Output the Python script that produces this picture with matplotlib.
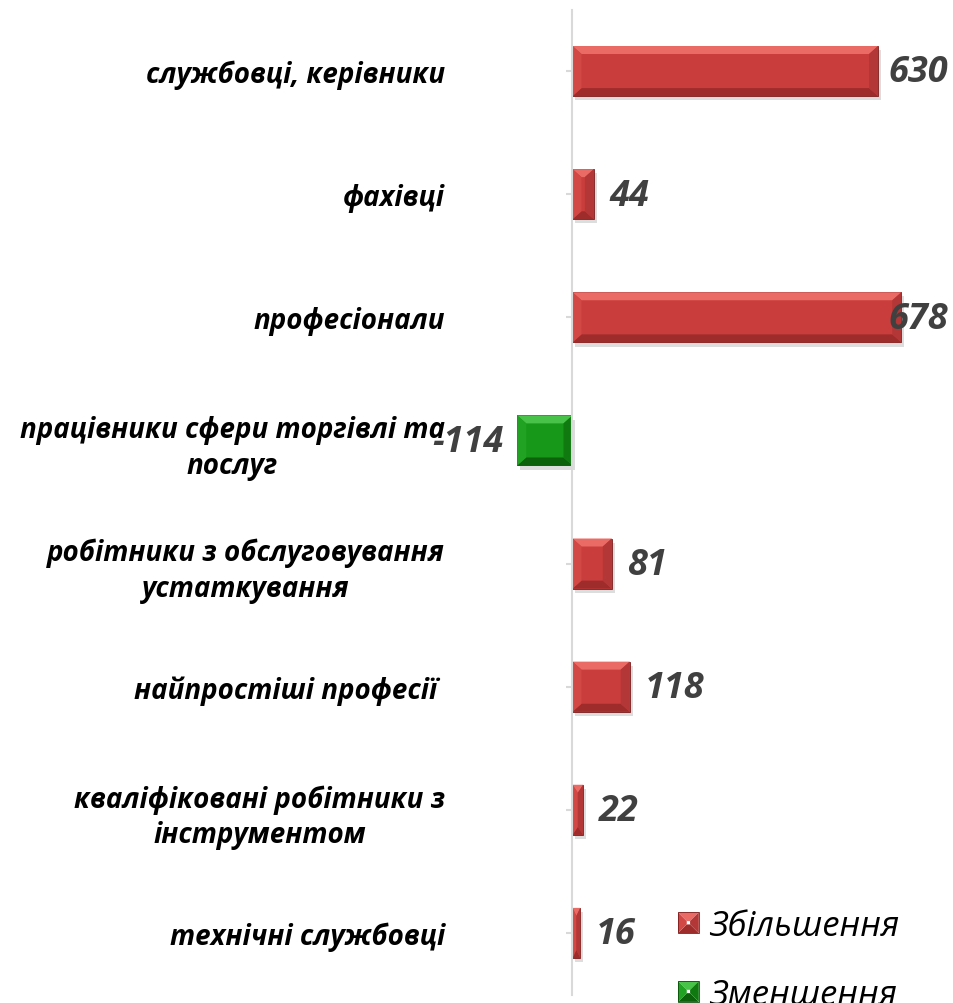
import matplotlib
matplotlib.use("Agg")
import matplotlib.pyplot as plt
from matplotlib.patches import Polygon, Patch
from matplotlib.legend_handler import HandlerBase
import matplotlib.patheffects as pe

# ---------------- data ----------------
categories = [
    "службовці, керівники",
    "фахівці",
    "професіонали",
    "працівники сфери торгівлі та\nпослуг",
    "робітники з обслуговування\nустаткування",
    "найпростіші професії ",
    "кваліфіковані робітники з\nінструментом",
    "технічні службовці",
]
values = [630, 44, 678, -114, 81, 118, 22, 16]
series_names = ["Збільшення", "Зменшення"]

# ---------------- style ----------------
plt.rcParams["font.family"] = ["Open Sans", "DejaVu Sans"]
RED = dict(main="#C93D3C", top="#EA6A66", bottom="#9E2C2B", left="#D24845",
           right="#B23736", edge="#7A1C1C")
GREEN = dict(main="#189818", top="#48C248", bottom="#0B620B", left="#22A222",
             right="#107A10", edge="#0A4D0A")

W, H = 954, 1004
fig = plt.figure(figsize=(W / 100, H / 100), dpi=100)
fig.patch.set_facecolor("white")

zero_px, ppu = 572.5, 0.485
xmin, xmax = -200, 780
left_px = zero_px + xmin * ppu
right_px = zero_px + xmax * ppu
top_px, bottom_px = 10.5, 995.5
ax = fig.add_axes([left_px / W, 1 - bottom_px / H,
                   (right_px - left_px) / W, (bottom_px - top_px) / H])
ax.set_xlim(xmin, xmax)
n = len(categories)
ax.set_ylim(n - 0.5, -0.5)
ax.set_facecolor("none")

for s in ["top", "right", "bottom"]:
    ax.spines[s].set_visible(False)
ax.spines["left"].set_position(("data", 0))
ax.spines["left"].set_color("#D9D9D9")
ax.spines["left"].set_linewidth(1.5)
ax.set_xticks([])
ax.set_yticks(range(n))
ax.set_yticklabels(categories)
ax.tick_params(axis="y", length=4.3, width=1.5, color="#D9D9D9",
               pad=87.5, labelsize=20)
for lbl in ax.get_yticklabels():
    lbl.set_fontweight("bold")
    lbl.set_fontstyle("italic")
    lbl.set_multialignment("center")
    lbl.set_color("black")
    lbl.set_linespacing(1.3)

# ---------------- bars ----------------
bar_h = 0.407
pal = [RED if v >= 0 else GREEN for v in values]
bars = ax.barh(range(n), values, height=bar_h,
               color=[p["main"] for p in pal],
               edgecolor=[p["edge"] for p in pal], linewidth=0.6, zorder=2)
for b in bars:
    b.set_path_effects([pe.SimplePatchShadow(offset=(2, -3), alpha=0.2,
                                             shadow_rgbFace="#555555"),
                        pe.Normal()])

sx = (right_px - left_px) / (xmax - xmin)
sy = (bottom_px - top_px) / n


def bevel_faces(x0, x1, yt, yb, bx, by):
    return dict(
        top=[(x0, yt), (x1, yt), (x1 - bx, yt + by), (x0 + bx, yt + by)],
        bottom=[(x0, yb), (x1, yb), (x1 - bx, yb - by), (x0 + bx, yb - by)],
        left=[(x0, yt), (x0 + bx, yt + by), (x0 + bx, yb - by), (x0, yb)],
        right=[(x1, yt), (x1 - bx, yt + by), (x1 - bx, yb - by), (x1, yb)],
    )


for i, (v, p) in enumerate(zip(values, pal)):
    x0, x1 = min(0, v), max(0, v)
    yt, yb = i - bar_h / 2, i + bar_h / 2
    bx = min(9 / sx, (x1 - x0) / 2)
    by = min(8 / sy, bar_h / 2)
    for face, pts in bevel_faces(x0, x1, yt, yb, bx, by).items():
        ax.add_patch(Polygon(pts, closed=True, facecolor=p[face],
                             edgecolor="none", zorder=2.1))

# ---------------- value labels ----------------
anns = []
for i, v in enumerate(values):
    off = 11 if v >= 0 else -10
    a = ax.annotate(f"{v}", xy=(v, i), xytext=(off, -1),
                    textcoords="offset points",
                    ha="left" if v >= 0 else "right", va="center",
                    fontsize=26, fontweight="bold", fontstyle="italic",
                    color="#404040", zorder=3)
    anns.append(a)

fig.canvas.draw()
r = fig.canvas.get_renderer()
limit = right_px - 3
for a in anns:
    bb = a.get_window_extent(r)
    if bb.x1 > limit:
        dx = (bb.x1 - limit) * 72 / 100
        ox, oy = a.xyann
        a.xyann = (ox - dx, oy)


# ---------------- legend ----------------
class BevelHandler(HandlerBase):
    def __init__(self, colors):
        super().__init__()
        self.c = colors

    def create_artists(self, legend, orig_handle, xdescent, ydescent,
                       width, height, fontsize, trans):
        s = min(width, height)
        x0, y0 = -xdescent, -ydescent + (height - s) / 2
        b = s * 0.42
        faces = dict(
            top=[(x0, y0 + s), (x0 + s, y0 + s), (x0 + s - b, y0 + s - b), (x0 + b, y0 + s - b)],
            bottom=[(x0, y0), (x0 + s, y0), (x0 + s - b, y0 + b), (x0 + b, y0 + b)],
            left=[(x0, y0), (x0 + b, y0 + b), (x0 + b, y0 + s - b), (x0, y0 + s)],
            right=[(x0 + s, y0), (x0 + s - b, y0 + b), (x0 + s - b, y0 + s - b), (x0 + s, y0 + s)],
        )
        arts = []
        for face, pts in faces.items():
            arts.append(Polygon(pts, closed=True, facecolor=self.c[face],
                                edgecolor="none", transform=trans))
        arts.append(Polygon([(x0, y0), (x0 + s, y0), (x0 + s, y0 + s), (x0, y0 + s)],
                            closed=True, facecolor="none",
                            edgecolor=self.c["edge"], linewidth=0.6,
                            transform=trans))
        return arts


h_red = Patch(facecolor=RED["main"])
h_green = Patch(facecolor=GREEN["main"])
fig.legend([h_red, h_green], series_names, loc="upper left",
           bbox_to_anchor=(678 / W, 1 - 910 / H), frameon=False,
           prop=dict(size=25, style="italic"),
           handlelength=0.6, handleheight=0.6, handletextpad=0.28,
           labelspacing=1.0, borderpad=0, borderaxespad=0,
           handler_map={h_red: BevelHandler(RED), h_green: BevelHandler(GREEN)})

fig.savefig("out.png", dpi=100, facecolor="white")
